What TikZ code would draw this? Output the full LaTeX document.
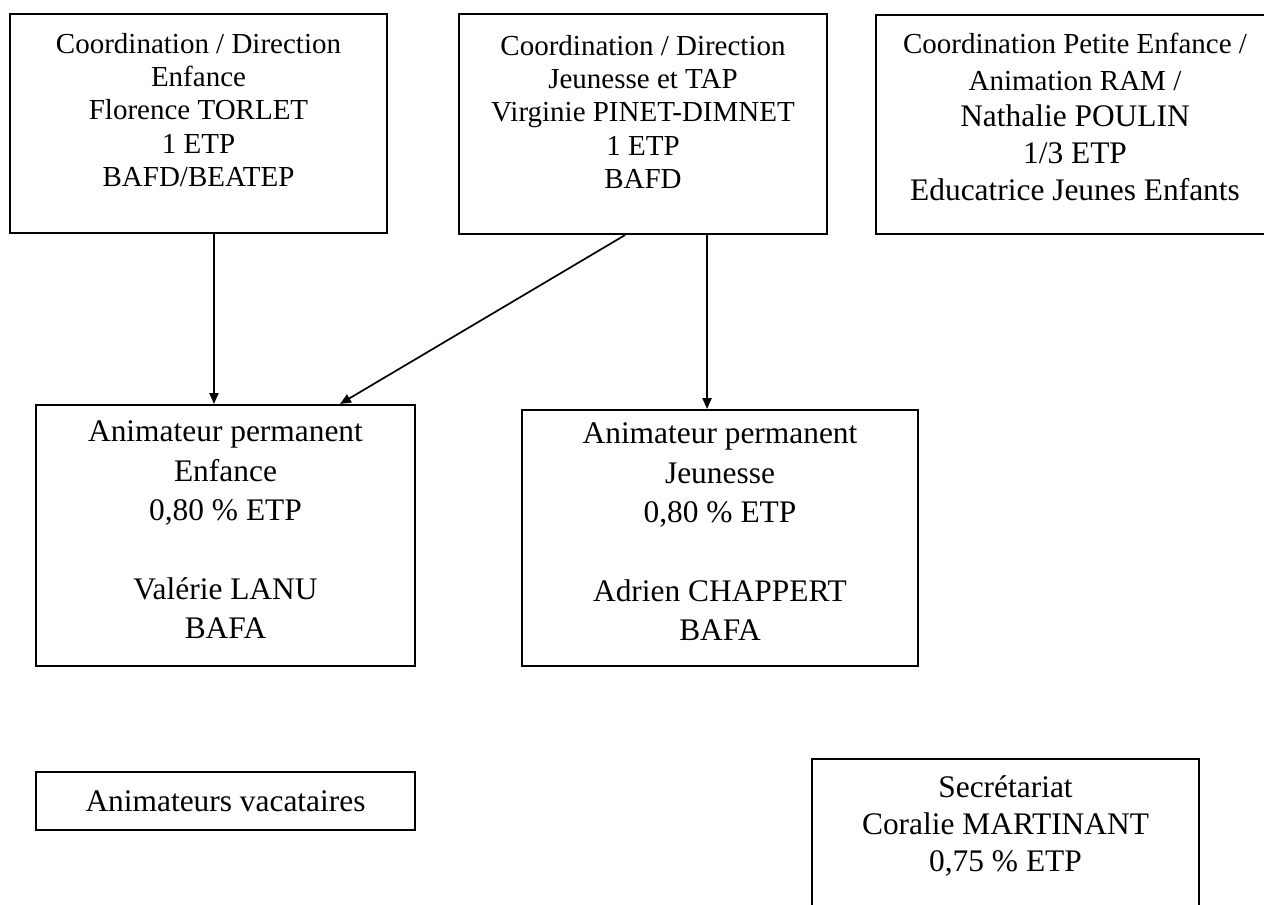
\documentclass[tikz,border=0pt]{standalone}
\usepackage{fontspec}
\setmainfont{Liberation Serif}
\usetikzlibrary{arrows.meta,positioning}
\newdimen\pxu \pxu=0.4138pt
% box text set from the top: width, height, top gap, lines
\newcommand{\boxtext}[4]{\parbox[c][#2\pxu][t]{#1\pxu}{\vspace*{#3\pxu}\centering #4\par}}
\newcommand{\twelve}{\fontsize{12}{13.8}\selectfont}
\newcommand{\thirteen}{\fontsize{13}{16.3}\selectfont}
\tikzset{
>={Triangle[length=4.5pt,width=3.8pt]},
  orgbox/.style={
    rectangle,
    draw=black, line width=0.9pt,
    inner sep=0pt},
  link/.style={draw, line width=0.7pt, ->},
}

\begin{document}
\begin{tikzpicture}[x=0.4138pt, y=-0.4138pt]
  \useasboundingbox (0,0) rectangle (1264,905);
  % top row
  \node[orgbox] (direnf) at (198.5,123.5)
    {\boxtext{377}{219}{19}{\twelve Coordination / Direction\\ Enfance\\ Florence TORLET\\ 1 ETP\\ BAFD/BEATEP}};
  \node[orgbox] (dirjeu) at (643,124)
    {\boxtext{368}{220}{21}{\twelve Coordination / Direction\\ Jeunesse et TAP\\ Virginie PINET-DIMNET\\ 1 ETP\\ BAFD}};
  \node[orgbox] (petenf) at (1075,124.5)
    {\boxtext{398}{219}{18}{\fontsize{13}{15.2}\selectfont {\fontsize{12}{15.2}\selectfont Coordination Petite Enfance /}\\ {\fontsize{12}{15.2}\selectfont Animation RAM /}\\ Nathalie POULIN\\ 1/3 ETP\\ Educatrice Jeunes Enfants}};
  % middle row
  \node[orgbox] (animenf) at (225.5,535.5)
    {\boxtext{379}{261}{16}{\thirteen Animateur permanent\\ Enfance\\ 0,80 \% ETP\\ ~\\ Valérie LANU\\ BAFA}};
  \node[orgbox] (animjeu) at (720,538)
    {\boxtext{396}{256}{13}{\thirteen Animateur permanent\\ Jeunesse\\ 0,80 \% ETP\\ ~\\ Adrien CHAPPERT\\ BAFA}};
  % bottom row
  \node[orgbox, minimum width=379*0.4138pt, minimum height=58*0.4138pt] (vacat) at (225.5,801)
    {\thirteen Animateurs vacataires};
  \node[orgbox] (secret) at (1005.5,839)
    {\boxtext{387}{160}{17}{\fontsize{13}{15.3}\selectfont Secrétariat\\ Coralie MARTINANT\\ 0,75 \% ETP}};

  \draw[link] ([xshift=6.4pt]direnf.south) -- ([xshift=6.4pt]direnf.south |- animenf.north);
  \draw[link] ([xshift=-7.45pt]dirjeu.south) -- ([xshift=47.4pt]animenf.north);
  \draw[link] ([xshift=26.5pt]dirjeu.south) -- ([xshift=26.5pt]dirjeu.south |- animjeu.north);
\end{tikzpicture}
\end{document}
